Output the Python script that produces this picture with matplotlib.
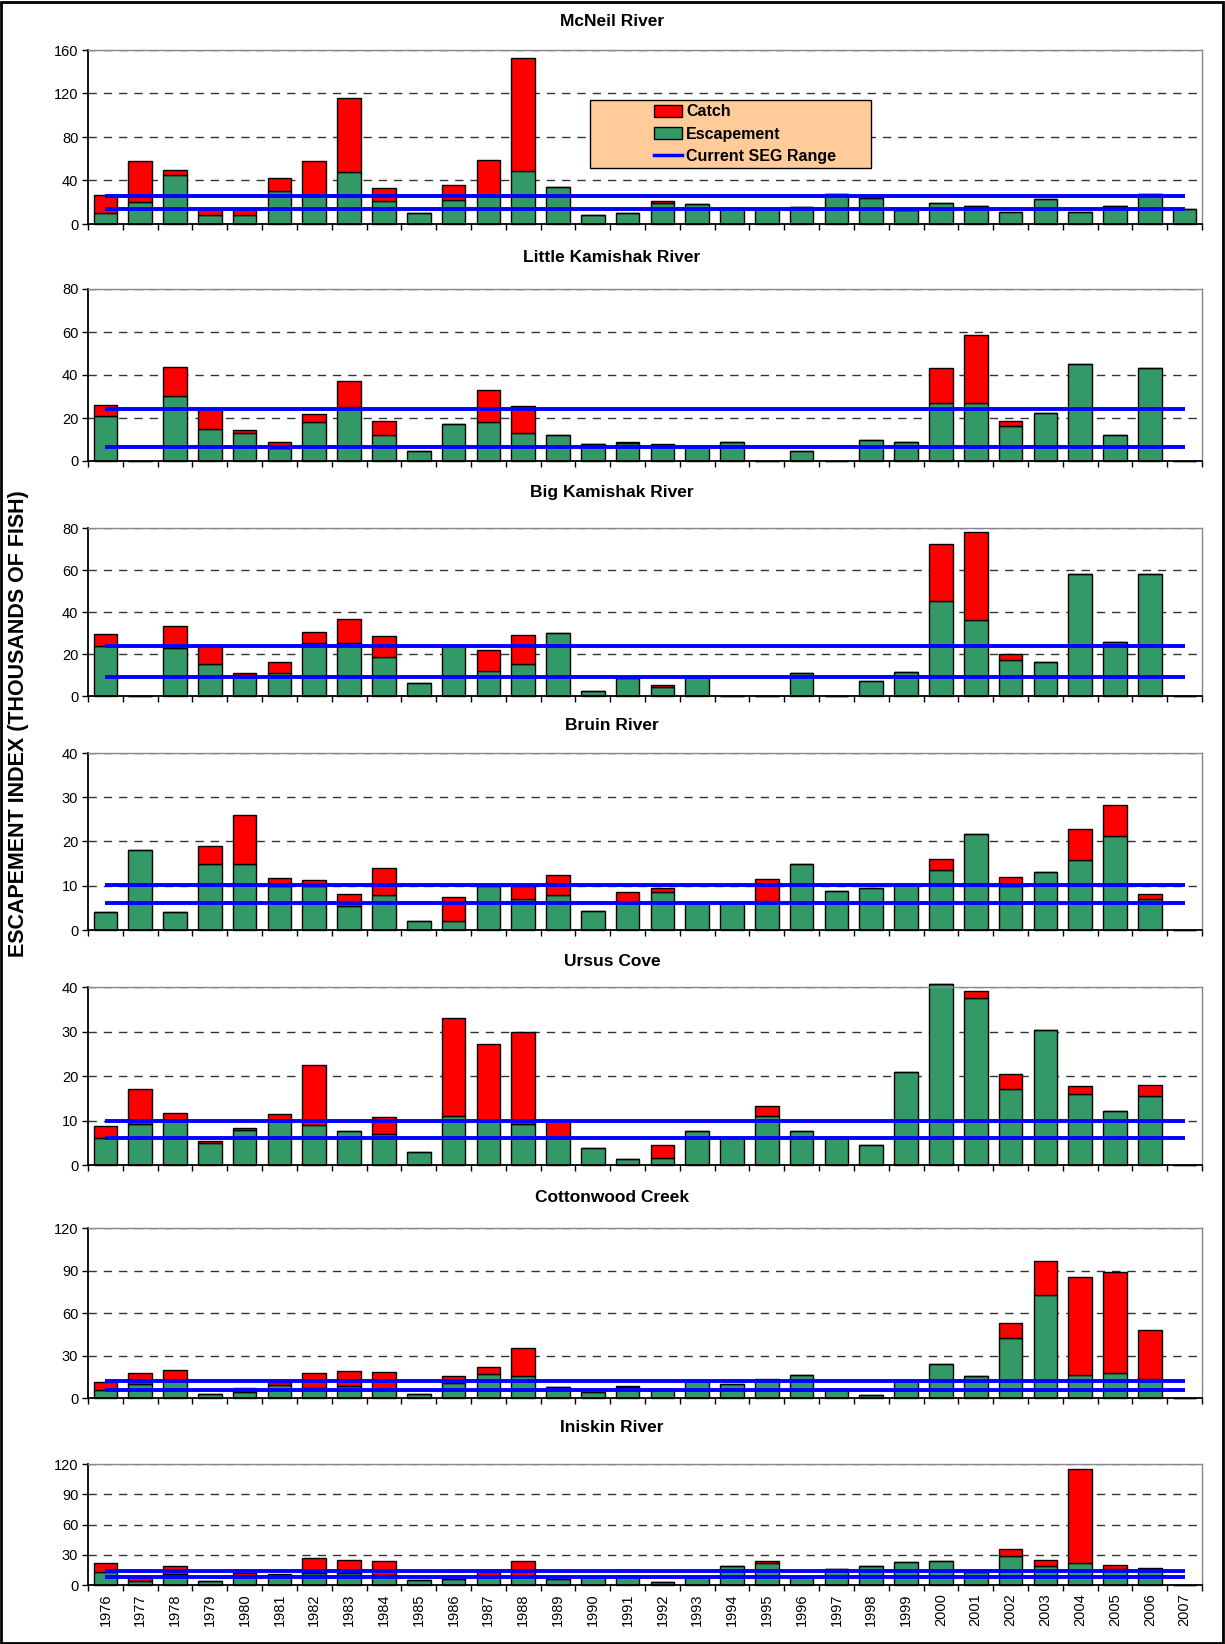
import numpy as np
import matplotlib
matplotlib.use("Agg")
import matplotlib.pyplot as plt
from matplotlib.patches import Patch, Rectangle
from matplotlib.lines import Line2D

plt.rcParams["font.family"] = ["Liberation Sans", "DejaVu Sans"]

years = [str(y) for y in range(1976, 2008)]

# values in thousands of fish, 1976-2007
mcneil_esc = [10, 20, 45, 8, 8, 30, 26, 48, 21, 10, 22, 26, 49, 34, 8, 10,
              19, 18, 15, 14, 16, 28, 24, 13, 19, 17, 11, 23, 11, 17, 28, 14]
mcneil_catch = [17, 38, 5, 6, 6, 12, 32, 68, 12, 0, 14, 33, 104, 0, 0, 0,
                2, 0, 0, 0, 0, 0, 0, 0, 0, 0, 0, 0, 0, 0, 0, 0]

lkam_esc = [21, 0, 30, 15, 13, 6, 18, 25, 12, 4.7, 17, 18, 13, 12, 8, 8.5,
            7, 6.5, 9, 0, 4.5, 0, 9.8, 9, 26.8, 27, 16.2, 22.1, 45.3, 12, 43.1, 0]
lkam_catch = [5, 0, 13.7, 9, 1.6, 3, 4, 12, 6.4, 0, 0, 14.8, 12.5, 0, 0, 0.5,
              1, 0, 0, 0, 0, 0, 0, 0, 16.6, 31.5, 2.6, 0, 0, 0, 0, 0]

bkam_esc = [24, 0, 23, 15, 10, 11, 25, 25, 18.7, 6, 24, 12, 15, 30, 2.4, 8.7,
            4.3, 9.2, 0, 0, 11.1, 0, 7.1, 11.6, 45.2, 36.3, 17.1, 16.3, 57.9, 25.7, 58.3, 0]
bkam_catch = [5.5, 0, 10.2, 9, 1.1, 5.3, 5.3, 11.8, 10, 0, 0, 9.7, 14.2, 0, 0, 0,
              0.9, 0, 0, 0, 0, 0, 0, 0, 27.3, 41.8, 2.9, 0, 0, 0, 0, 0]

bruin_esc = [4, 18, 4, 15, 15, 10, 10, 5.4, 8, 2, 2, 10, 6.9, 7.8, 4.2, 6,
             8.5, 6, 6, 6.6, 14.9, 8.8, 9.4, 10.1, 13.6, 21.8, 9.9, 13.1, 15.8, 21.2, 6.9, 0]
bruin_catch = [0, 0, 0, 4, 11, 1.7, 1.3, 2.7, 5.9, 0, 5.4, 0, 3, 4.7, 0, 2.6,
               0.9, 0, 0, 4.9, 0, 0, 0, 0, 2.4, 0, 2, 0.1, 7.1, 7, 1.3, 0]

ursus_esc = [6, 9.3, 10, 4.9, 7.9, 10, 9, 7.6, 7, 3, 10.9, 10, 9.3, 6, 3.8, 1.3,
             1.6, 7.6, 6, 10.9, 7.6, 6.2, 4.6, 20.9, 40.7, 37.6, 17.05, 30.4, 15.9, 12.1, 15.6, 0]
ursus_catch = [2.75, 7.75, 1.6, 0.6, 0.4, 1.4, 13.4, 0, 3.7, 0, 22.1, 17.1, 20.7, 3.9, 0, 0,
               2.8, 0, 0, 2.3, 0, 0, 0, 0, 0, 1.6, 3.45, 0, 1.9, 0, 2.35, 0]

cotton_esc = [5.4, 9.9, 12, 2.8, 4, 9, 7, 8.3, 6.4, 3.1, 10.6, 17, 15.8, 8, 4, 7.8,
              6.6, 12.3, 10.1, 13, 16, 6.1, 2.4, 12.3, 24.3, 15.8, 42.2, 72.9, 16, 17.9, 13.2, 0]
cotton_catch = [5.7, 8, 8, 0, 3, 2.1, 10.9, 10.8, 11.8, 0, 5, 4.9, 19.8, 0, 0, 0.5,
                0, 0, 0, 0.2, 0, 0, 0, 0, 0, 0, 10.4, 23.8, 69.6, 71, 34.9, 0]

inisk_esc = [13.2, 4, 10.6, 4, 8, 8.5, 12, 12, 9.6, 5, 6, 8, 9, 6, 7.9, 8.6,
             3.3, 8, 18.8, 21.8, 8, 15.5, 18.5, 23.1, 23.4, 13.2, 28.4, 18.8, 21.8, 15.8, 15.8, 0]
inisk_catch = [8.6, 4.6, 7.9, 0, 4, 2.4, 14.7, 12.4, 13.8, 0, 2.6, 4.5, 14.8, 0, 0, 0,
               0, 0, 0, 2.3, 0, 0, 0, 0, 0, 0, 7.2, 6, 93.4, 3.7, 1.5, 0]

# current SEG ranges (low, high)
mcneil_seg = (13.75, 25.75)
lkam_seg = (6.5, 24)
bkam_seg = (9.2, 24)
bruin_seg = (6, 10.25)
ursus_seg = (6, 10)
cotton_seg = (5.9, 12.2)
inisk_seg = (7.8, 13.5)

titles = ["McNeil River", "Little Kamishak River", "Big Kamishak River", "Bruin River",
          "Ursus Cove", "Cottonwood Creek", "Iniskin River"]
y_max = [160, 80, 80, 40, 40, 120, 120]
y_step = [40, 20, 20, 10, 10, 30, 30]

panels = [
    (mcneil_esc, mcneil_catch, mcneil_seg),
    (lkam_esc, lkam_catch, lkam_seg),
    (bkam_esc, bkam_catch, bkam_seg),
    (bruin_esc, bruin_catch, bruin_seg),
    (ursus_esc, ursus_catch, ursus_seg),
    (cotton_esc, cotton_catch, cotton_seg),
    (inisk_esc, inisk_catch, inisk_seg),
]

# layout in pixels (top, bottom, title y)
W, H = 1225, 1644
L, R = 88, 1202
boxes = [(50, 224, 21), (289, 461, 258), (528, 696, 493), (753, 930, 725),
         (987, 1165, 961), (1228, 1398, 1197), (1464, 1585, 1427)]

GREEN = "#339966"
RED = "#FF0000"
BLUE = "#0000FF"

fig = plt.figure(figsize=(W / 100, H / 100), dpi=100)
x = np.arange(len(years))

for i, (esc, catch, seg) in enumerate(panels):
    top, bot, ty = boxes[i]
    ax = fig.add_axes([L / W, 1 - bot / H, (R - L) / W, (bot - top) / H])
    esc = np.array(esc, dtype=float)
    catch = np.array(catch, dtype=float)
    ax.bar(x, esc, width=0.68, color=GREEN, edgecolor="black", linewidth=1.0, zorder=2,
           clip_on=False)
    ax.bar(x, catch, bottom=esc, width=0.68, color=RED, edgecolor="black", linewidth=1.0,
           zorder=2, clip_on=False)
    ax.plot(x, np.full(len(x), seg[0]), color=BLUE, lw=2.8, zorder=3, solid_capstyle="butt")
    ax.plot(x, np.full(len(x), seg[1]), color=BLUE, lw=2.8, zorder=3, solid_capstyle="butt")

    ticks = np.arange(0, y_max[i] + 1, y_step[i])
    ax.set_ylim(0, y_max[i])
    ax.set_yticks(ticks)
    ax.set_yticklabels([str(t) for t in ticks], fontsize=10.5)
    for t in ticks[1:]:
        ax.axhline(t, color="#333333", lw=1.0, dashes=(6, 5), zorder=1)

    ax.set_xlim(-0.5, len(x) - 0.5)
    ax.set_xticks(np.arange(-0.5, len(x), 1.0))
    ax.set_xticklabels([])
    ax.tick_params(axis="x", which="major", direction="out", length=4, width=1)
    ax.tick_params(axis="y", direction="out", length=4, width=1, pad=3)
    if i == len(panels) - 1:
        ax.set_xticks(x, minor=True)
        ax.set_xticklabels(years, minor=True, rotation=90, fontsize=10.5)
        ax.tick_params(axis="x", which="minor", length=0, pad=6)

    for s in ["left", "bottom"]:
        ax.spines[s].set_color("black")
        ax.spines[s].set_linewidth(1.3)
    for s in ["top", "right"]:
        ax.spines[s].set_color("#888888")
        ax.spines[s].set_linewidth(1.0)

    fig.text(612 / W, 1 - ty / H, titles[i], ha="center", va="center",
             fontsize=12.5, fontweight="bold")

    if i == 0:
        fig.patches.append(Rectangle((590 / W, 1 - 168 / H), 281 / W, 68 / H,
                                     transform=fig.transFigure, facecolor="#FFCC99",
                                     edgecolor="black", lw=1.0, zorder=5))
        handles = [Patch(facecolor=RED, edgecolor="black", label="Catch"),
                   Patch(facecolor=GREEN, edgecolor="black", label="Escapement"),
                   Line2D([], [], color=BLUE, lw=2.5, label="Current SEG Range")]
        leg = fig.legend(handles=handles, loc="upper left",
                         bbox_to_anchor=(640 / W, 1 - 90 / H), frameon=False,
                         prop={"weight": "bold", "size": 11.5}, handlelength=1.7,
                         handleheight=0.8, handletextpad=0.3, labelspacing=0.45)
        leg.set_zorder(6)

fig.text(19 / W, 1 - 724 / H, "ESCAPEMENT INDEX (THOUSANDS OF FISH)", rotation=90,
         ha="center", va="center", fontsize=15.5, fontweight="bold")

fig.patches.append(Rectangle((1 / W, 1 / H), (W - 3) / W, (H - 3) / H,
                             transform=fig.transFigure, fill=False, edgecolor="black",
                             lw=2.0))

fig.savefig("out.png", dpi=100)
